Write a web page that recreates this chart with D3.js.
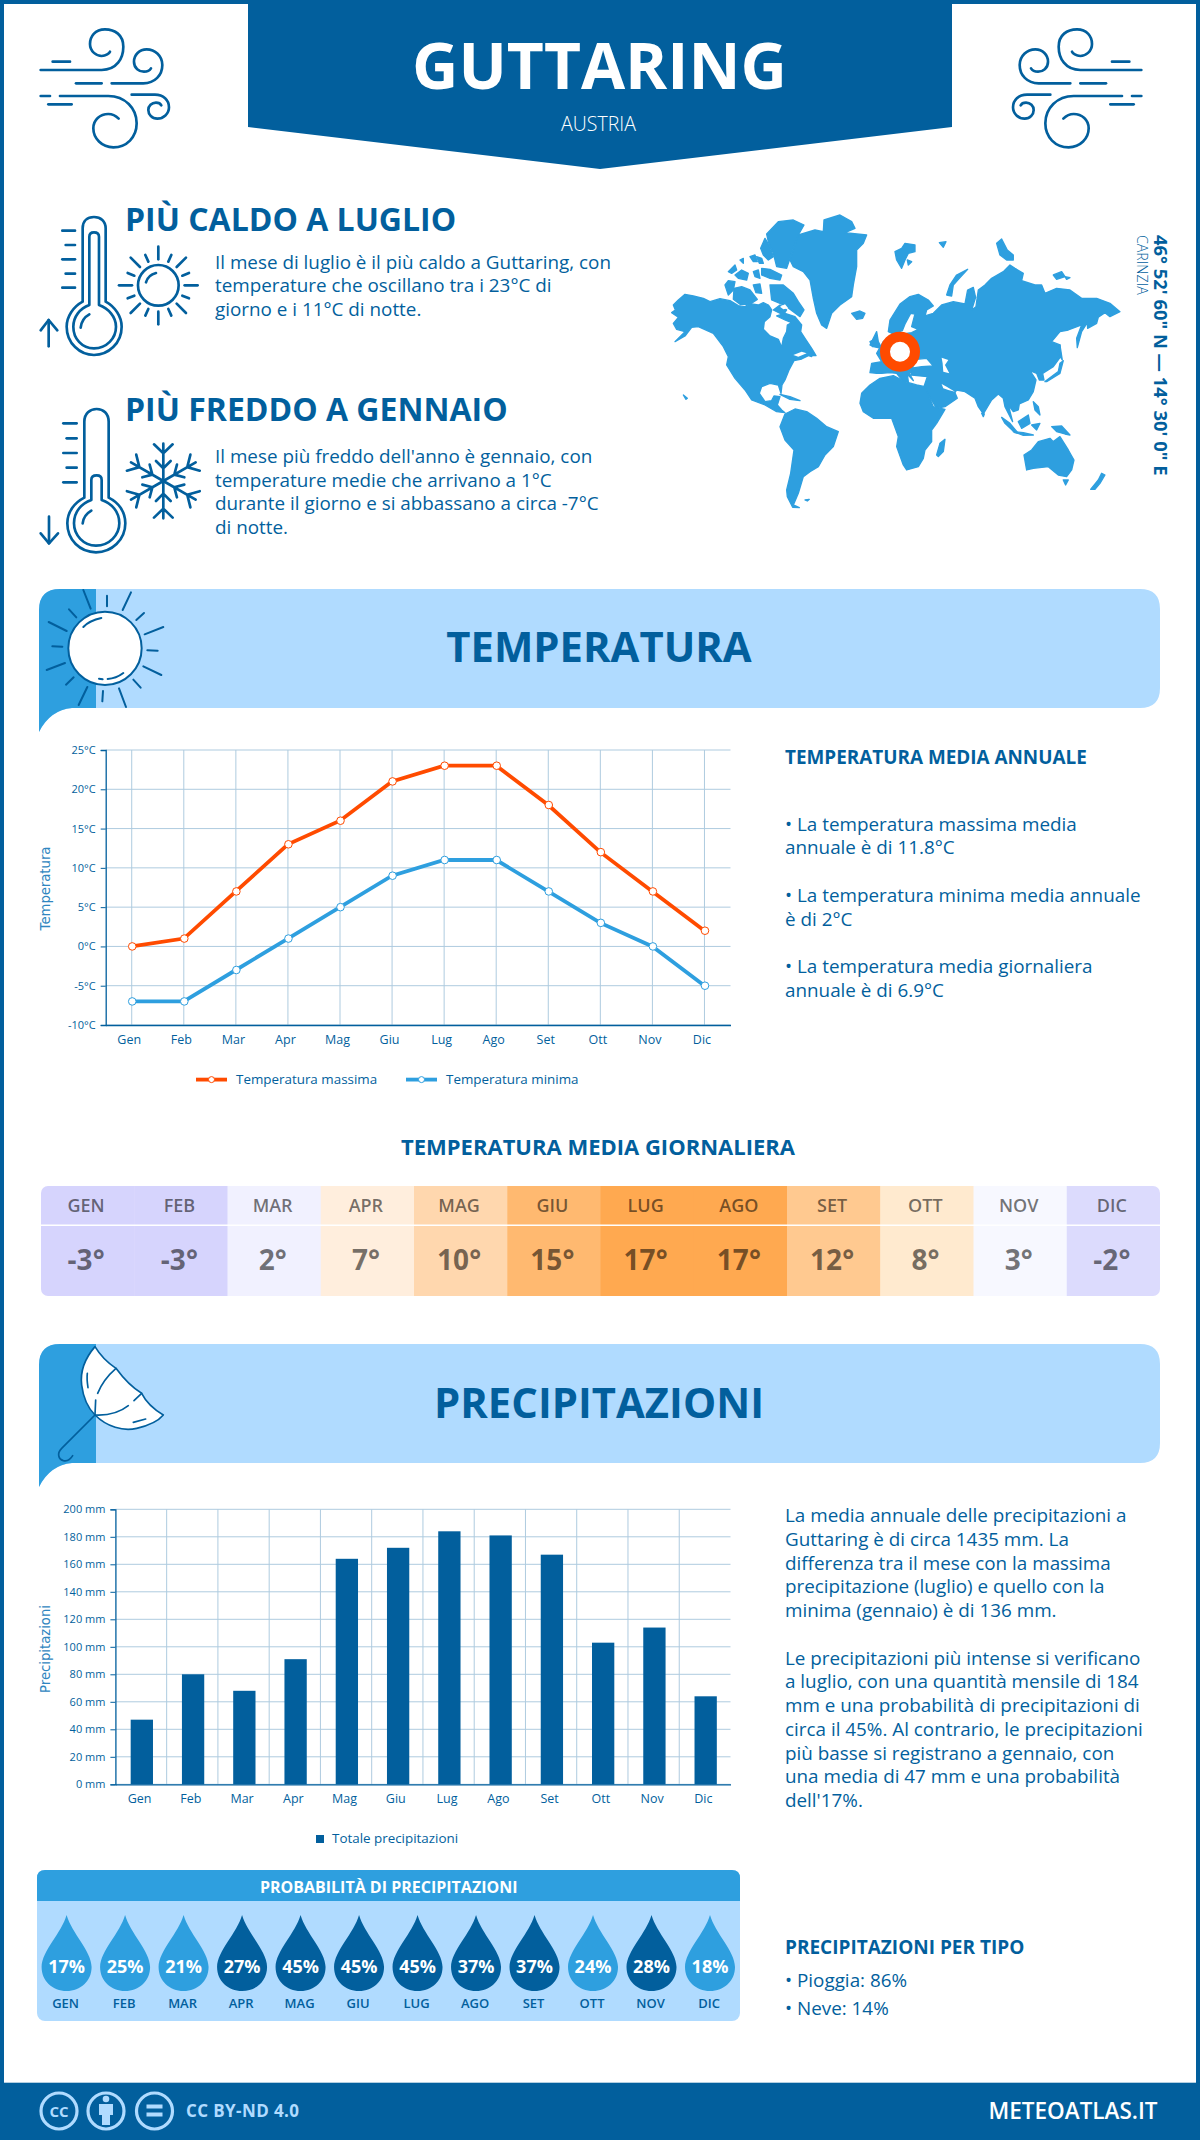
<!DOCTYPE html>
<html lang="it">
<head>
<meta charset="utf-8">
<title>Guttaring - Meteo Atlas</title>
<script src="https://cdn.jsdelivr.net/npm/d3@7"></script>
<style>
    body { margin: 0; background: #fff; font-family: "Open Sans", sans-serif; }
    svg { display: block; }
    text { font-family: "Open Sans", sans-serif; }
</style>
</head>
<body>
<svg id="chart" width="1200" height="2140" viewBox="0 0 1200 2140"></svg>
<script>
const DARK = "#025f9d", MID = "#2e9fdf", LIGHT = "#b0dbff", ORANGE = "#ff4b00", GRID = "#aecbdf";

const months = ["Gen", "Feb", "Mar", "Apr", "Mag", "Giu", "Lug", "Ago", "Set", "Ott", "Nov", "Dic"];
const monthsUpper = ["GEN", "FEB", "MAR", "APR", "MAG", "GIU", "LUG", "AGO", "SET", "OTT", "NOV", "DIC"];
const tempMax = [0, 1, 7, 13, 16, 21, 23, 23, 18, 12, 7, 2];
const tempMin = [-7, -7, -3, 1, 5, 9, 11, 11, 7, 3, 0, -5];
const tempDaily = [-3, -3, 2, 7, 10, 15, 17, 17, 12, 8, 3, -2];
const tempDailyColors = ["#d6d4fd", "#d6d4fd", "#f1f1ff", "#ffeedd", "#ffd7ae", "#ffb970", "#ffa950", "#ffa950", "#ffc990", "#ffeacf", "#f7f8ff", "#dcdbfd"];
const rain = [47, 80, 68, 91, 164, 172, 184, 181, 167, 103, 114, 64];
const rainChance = [17, 25, 21, 27, 45, 45, 45, 37, 37, 24, 28, 18];
const rainChanceDark = [false, false, false, true, true, true, true, true, true, false, true, false];

const hotLines = ["Il mese di luglio è il più caldo a Guttaring, con", "temperature che oscillano tra i 23°C di", "giorno e i 11°C di notte."];
const coldLines = ["Il mese più freddo dell'anno è gennaio, con", "temperature medie che arrivano a 1°C", "durante il giorno e si abbassano a circa -7°C", "di notte."];
const tempSummary = [["• La temperatura massima media", 831], ["annuale è di 11.8°C", 854], ["• La temperatura minima media annuale", 902], ["è di 2°C", 926], ["• La temperatura media giornaliera", 973], ["annuale è di 6.9°C", 997]];
const rainSummary = ["La media annuale delle precipitazioni a", "Guttaring è di circa 1435 mm. La", "differenza tra il mese con la massima", "precipitazione (luglio) e quello con la", "minima (gennaio) è di 136 mm.", "", "Le precipitazioni più intense si verificano", "a luglio, con una quantità mensile di 184", "mm e una probabilità di precipitazioni di", "circa il 45%. Al contrario, le precipitazioni", "più basse si registrano a gennaio, con", "una media di 47 mm e una probabilità", "dell'17%."];

// mappa: contorni ricalcati a mano, scala 3x
const mapLand = [
    [[5,308],[16,300],[10,285],[25,270],[45,253],[70,258],[100,265],[120,275],[150,266],[180,272],[205,287],[225,290],[240,281],[265,285],[280,278],[295,285],[305,300],[300,320],[283,335],[280,358],[300,378],[325,388],[335,412],[340,385],[350,365],[352,345],[365,338],[345,330],[320,318],[345,310],[375,320],[395,345],[392,365],[405,385],[425,415],[438,437],[415,437],[395,447],[372,452],[358,478],[345,510],[336,525],[333,550],[325,525],[300,520],[275,530],[268,550],[285,575],[305,572],[312,558],[330,560],[322,585],[335,600],[345,608],[320,605],[285,585],[245,570],[225,540],[195,505],[170,465],[175,440],[160,410],[130,370],[85,350],[65,352],[45,378],[15,395],[45,365],[20,358],[10,340],[25,322]],
    [[330,650],[345,612],[375,597],[410,605],[440,625],[470,650],[505,665],[490,710],[465,735],[445,770],[420,785],[400,800],[385,850],[370,885],[388,893],[368,892],[352,860],[350,840],[362,790],[372,720],[345,690]],
    [[360,150],[385,75],[435,60],[460,65],[462,30],[510,15],[545,35],[555,55],[525,68],[590,75],[580,100],[560,120],[560,170],[550,225],[545,260],[510,285],[485,310],[470,355],[455,345],[440,310],[430,265],[420,210],[400,185],[370,170]],
    [[290,72],[325,35],[370,30],[402,45],[385,75],[370,115],[350,175],[320,170],[310,130],[295,95]],
    [[272,115],[285,85],[300,110],[310,140],[295,150],[280,135]],
    [[175,185],[195,165],[200,180],[185,190]],
    [[195,195],[215,180],[235,190],[230,210],[205,205]],
    [[165,225],[175,212],[195,215],[190,240],[175,255]],
    [[192,235],[215,230],[240,240],[262,268],[240,283],[210,283],[190,268]],
    [[250,185],[265,180],[270,205],[255,200]],
    [[240,140],[255,135],[262,155],[250,155]],
    [[260,140],[275,145],[280,160],[268,160]],
    [[210,150],[220,145],[220,160]],
    [[275,175],[300,178],[335,195],[330,210],[300,205],[275,195]],
    [[250,225],[270,222],[275,250],[258,248]],
    [[300,225],[340,225],[370,250],[385,275],[402,300],[390,320],[370,305],[350,290],[330,280],[305,270]],
    [[310,300],[330,285],[350,300],[340,315]],
    [[545,310],[570,303],[585,310],[578,325],[560,328]],
    [[675,125],[695,115],[705,100],[735,105],[735,125],[715,130],[705,150],[695,175],[680,150]],
    [[712,150],[725,155],[715,165]],
    [[808,98],[828,95],[820,112]],
    [[893,178],[860,195],[840,225],[830,255],[845,258],[850,225],[868,205]],
    [[980,100],[995,87],[1012,120],[1030,135],[1030,150],[1010,150],[990,135]],
    [[1150,195],[1175,185],[1185,200],[1160,208]],
    [[1185,200],[1200,203],[1190,208]],
    [[655,365],[660,330],[690,282],[720,260],[745,253],[775,270],[790,288],[770,300],[765,318],[790,310],[815,285],[850,275],[885,282],[893,240],[910,232],[917,262],[905,300],[918,290],[925,240],[945,225],[965,205],[1000,185],[1020,165],[1035,175],[1060,190],[1055,212],[1095,225],[1115,225],[1125,250],[1160,235],[1200,240],[1235,265],[1280,265],[1320,280],[1350,305],[1320,320],[1305,308],[1285,322],[1280,340],[1253,355],[1252,338],[1235,365],[1222,413],[1220,385],[1235,345],[1195,360],[1170,365],[1145,395],[1170,405],[1172,440],[1150,470],[1118,490],[1122,510],[1108,510],[1100,490],[1080,482],[1098,510],[1090,545],[1075,570],[1048,582],[1045,600],[1030,605],[1015,585],[1028,635],[1005,590],[1000,565],[985,552],[965,570],[940,612],[925,590],[915,565],[885,545],[860,540],[855,548],[862,565],[825,590],[800,595],[775,555],[762,530],[772,500],[725,495],[720,475],[755,470],[790,468],[770,445],[740,448],[718,490],[730,512],[712,492],[715,515],[700,515],[680,490],[660,488],[635,490],[620,490],[600,488],[605,460],[635,455],[620,430],[640,395],[700,372],[725,368],[745,358],[725,350],[735,312],[722,310],[706,340],[697,362],[670,372]],
    [[570,580],[575,550],[600,525],[630,505],[670,497],[705,515],[740,525],[765,530],[790,590],[825,598],[800,640],[785,660],[785,695],[765,720],[760,745],[745,770],[710,780],[700,765],[680,710],[685,680],[665,625],[610,625],[580,605]],
    [[800,735],[810,700],[825,688],[820,725],[805,740]],
    [[1062,735],[1085,720],[1105,695],[1140,685],[1150,695],[1170,680],[1195,720],[1212,750],[1205,780],[1190,800],[1165,795],[1135,770],[1090,775],[1070,780]],
    [[1180,810],[1195,810],[1187,825]],
    [[1262,838],[1285,810],[1295,790],[1305,795],[1290,820],[1275,838]],
    [[1145,650],[1175,648],[1200,675],[1185,672],[1160,665]],
    [[1045,635],[1075,615],[1080,640],[1055,655]],
    [[995,622],[1020,640],[1045,670],[1035,668],[1005,640]],
    [[1030,665],[1060,668],[1090,675],[1060,676]],
    [[1085,645],[1110,640],[1100,660]],
    [[1090,575],[1105,590],[1110,615],[1095,600]],
    [[1125,515],[1165,485],[1170,460],[1180,452],[1170,490],[1130,515]],
    [[1170,405],[1177,450],[1165,430]],
    [[330,553],[360,560],[390,572],[360,568]],
    [[600,405],[620,365],[625,395],[635,415],[610,410]],
    [[600,395],[610,390],[608,410]],
    [[400,430],[430,425],[425,440]],
    [[405,870],[418,868],[412,873]],
    [[40,555],[52,565],[48,568]],
    [[935,610],[943,612],[940,620]]
];
const mapWater = [
    [[815,522],[830,530],[855,545],[835,540],[820,535]],
    [[815,443],[835,450],[825,465],[838,490],[820,485],[818,460]],
    [[370,435],[395,425],[410,430],[385,440]],
    [[330,290],[345,283],[355,295],[340,298]]
];

const svg = d3.select("#chart");

function addText(parent, str, x, y, size, opts = {}) {
    return parent.append("text")
        .attr("x", x).attr("y", y)
        .attr("font-size", size)
        .attr("font-weight", opts.weight || 400)
        .attr("fill", opts.fill || DARK)
        .attr("text-anchor", opts.anchor || "start")
        .text(str);
}

// icone disegnate a scala 3x rispetto alla pagina
function iconGroup(x, y, flip) {
    const t = flip ? `translate(${x},${y}) scale(-0.3333,0.3333)` : `translate(${x},${y}) scale(0.3333)`;
    return svg.append("g").attr("transform", t)
        .attr("fill", "none").attr("stroke", DARK)
        .attr("stroke-width", 8).attr("stroke-linecap", "round").attr("stroke-linejoin", "round");
}

function drawWind(g) {
    [
        "M32,150 L215,150 C260,150 280,115 280,80 C280,45 255,28 225,28 C195,28 180,50 180,72 C180,95 200,108 215,108 C228,108 238,100 240,95",
        "M68,125 L120,125",
        "M138,190 L215,190",
        "M245,190 L340,190 C375,190 397,165 397,135 C397,108 375,88 350,88 C328,88 312,105 312,125 C312,145 328,155 342,155 C352,155 360,150 363,145",
        "M32,228 L60,228",
        "M90,228 L235,228 C285,228 320,265 320,310 C320,352 290,382 250,382 C215,382 190,355 190,325 C190,300 210,282 235,282 C248,282 258,288 266,296",
        "M55,253 L125,253",
        "M305,224 L375,224 C400,224 417,240 417,262 C417,282 400,296 382,296 C365,296 355,282 355,270 C355,258 365,248 378,248 C385,248 392,252 394,256"
    ].forEach(d => g.append("path").attr("d", d));
}

// bordo e testata
svg.append("rect").attr("x", 2).attr("y", 2).attr("width", 1196).attr("height", 2136)
    .attr("fill", "#fff").attr("stroke", DARK).attr("stroke-width", 4);
svg.append("path").attr("d", "M248,0 L952,0 L952,127 L600,169 L248,127 Z").attr("fill", DARK);
addText(svg, "GUTTARING", 599.5, 89, 64, { weight: 700, fill: "#fff", anchor: "middle" });
addText(svg, "AUSTRIA", 598.5, 131, 19.5, { weight: 300, fill: "#fff", anchor: "middle" });
drawWind(iconGroup(30, 20, false));
drawWind(iconGroup(1152, 20, true));

// più caldo / più freddo
addText(svg, "PIÙ CALDO A LUGLIO", 125, 231, 32, { weight: 700 });
hotLines.forEach((l, i) => addText(svg, l, 215, 268.5 + i * 23.6, 18.85));
addText(svg, "PIÙ FREDDO A GENNAIO", 125, 421, 32, { weight: 700 });
coldLines.forEach((l, i) => addText(svg, l, 215, 463 + i * 23.6, 18.85));

const icons = iconGroup(30, 205, false);
[
    "M158,290 L158,70 C158,48 172,36 192,36 C212,36 227,48 227,70 L227,290 C255,305 275,335 275,365 C275,415 235,450 192,450 C150,450 110,415 110,365 C110,335 130,305 158,290 Z",
    "M178,300 L178,95 C178,85 185,82 192,82 C200,82 207,85 207,95 L207,300 C235,310 258,335 258,365 C258,400 230,430 192,430 C155,430 130,400 130,365 C130,335 150,310 178,300 Z",
    "M152,368 C154,350 165,335 178,328",
    "M97,77 L135,77", "M107,120 L135,120", "M97,163 L135,163", "M107,206 L135,206", "M97,248 L135,248",
    "M56,424 L56,345", "M32,376 L56,345 L82,376",
    "M385,125 L385,163", "M385,320 L385,358", "M267,241 L306,241", "M464,241 L503,241",
    "M302,158 L330,186", "M468,158 L440,186", "M302,324 L330,296", "M468,324 L440,296",
    "M346,150 L355,170", "M424,150 L415,170", "M293,204 L313,212", "M477,204 L457,212",
    "M293,280 L313,272", "M477,280 L457,272", "M346,332 L355,312", "M424,332 L415,312",
    "M348,232 C352,218 362,208 378,204",
    "M163,878 L163,650 C163,625 180,612 200,612 C220,612 236,625 236,650 L236,878 C265,892 286,920 286,955 C286,1005 245,1042 198,1042 C150,1042 112,1005 112,955 C112,920 135,892 163,878 Z",
    "M184,885 L184,825 C184,815 192,811 200,811 C208,811 215,815 215,825 L215,885 C245,895 268,920 268,955 C268,990 238,1022 198,1022 C160,1022 132,990 132,955 C132,920 155,895 184,885 Z",
    "M158,955 C160,938 170,925 184,917",
    "M100,655 L140,655", "M110,700 L140,700", "M100,744 L140,744", "M110,788 L140,788", "M100,832 L140,832",
    "M57,935 L57,1015", "M32,985 L57,1015 L84,985"
].forEach(d => icons.append("path").attr("d", d));
icons.append("circle").attr("cx", 385).attr("cy", 241).attr("r", 61);
d3.range(6).forEach(i => {
    icons.append("path")
        .attr("transform", `translate(400,828) rotate(${i * 60})`)
        .attr("d", "M0,0 L0,-112 M-28,-110 L0,-83 L28,-110 M-22,-60 L0,-38 L22,-60");
});

// mappa del mondo
const mapG = svg.append("g").attr("transform", "translate(670,210) scale(0.3333)");
const outline = d3.line().curve(d3.curveLinearClosed);
mapG.selectAll(".land").data(mapLand).join("path").attr("class", "land")
    .attr("d", outline).attr("fill", MID)
    .attr("stroke", MID).attr("stroke-width", 4).attr("stroke-linejoin", "round");
mapG.selectAll(".water").data(mapWater).join("path").attr("class", "water")
    .attr("d", outline).attr("fill", "#fff");
svg.append("circle").attr("cx", 900).attr("cy", 351.7).attr("r", 15)
    .attr("fill", "#fff").attr("stroke", ORANGE).attr("stroke-width", 10);
addText(svg, "46° 52' 60\" N — 14° 30' 0\" E", 0, 0, 18.4, { weight: 700 })
    .attr("transform", "translate(1154,235) rotate(90)");
addText(svg, "CARINZIA", 0, 0, 14.2, { weight: 300 })
    .attr("transform", "translate(1137,235) rotate(90)");

// fasce di sezione
function drawBanner(top, title, baseline) {
    const d = `M39,${top + 21} Q39,${top} 60,${top} L1140,${top} Q1160,${top} 1160,${top + 20} L1160,${top + 99} Q1160,${top + 119} 1140,${top + 119} L72,${top + 119} Q50,${top + 121} 39,${top + 143} Z`;
    svg.append("path").attr("d", d).attr("fill", LIGHT);
    const clipId = "clip" + top;
    svg.append("clipPath").attr("id", clipId).append("rect")
        .attr("x", 30).attr("y", top - 5).attr("width", 66).attr("height", 160);
    svg.append("path").attr("d", d).attr("fill", MID).attr("clip-path", `url(#${clipId})`);
    addText(svg, title, 599, baseline, 41.8, { weight: 700, anchor: "middle" });
}

drawBanner(589, "TEMPERATURA", 662);
drawBanner(1344, "PRECIPITAZIONI", 1418);

const sun = svg.append("g").attr("transform", "translate(30,580) scale(0.3333)")
    .attr("fill", "none").attr("stroke", DARK).attr("stroke-width", 6).attr("stroke-linecap", "round");
sun.append("circle").attr("cx", 225).attr("cy", 205).attr("r", 110).attr("fill", "#fff");
[
    "M160,30 L182,86", "M231,47 L231,79", "M303,37 L278,90", "M342,99 L319,120",
    "M400,141 L344,163", "M383,212 L352,211", "M394,285 L340,259", "M332,323 L310,299",
    "M288,381 L267,325", "M217,364 L219,333", "M146,375 L172,321", "M108,314 L131,292",
    "M50,270 L105,249", "M67,199 L97,200", "M56,126 L110,153", "M117,88 L139,112",
    "M160,141 C175,125 195,118 214,114", "M207,296 L218,298", "M233,297 C250,296 268,288 280,279"
].forEach(d => sun.append("path").attr("d", d));

const umbrella = svg.append("g").attr("transform", "translate(30,1335) scale(0.3333)")
    .attr("fill", "none").attr("stroke", DARK).attr("stroke-width", 5).attr("stroke-linecap", "round").attr("stroke-linejoin", "round");
umbrella.append("path").attr("fill", "#fff")
    .attr("d", "M195,35 C165,70 150,110 155,150 C160,190 175,220 195,240 C230,275 280,290 320,280 C355,272 385,258 400,240 C375,225 350,205 335,175 C310,160 280,130 258,100 C235,85 210,60 195,35 Z");
[
    "M258,100 C235,120 215,145 203,175", "M197,195 L195,240", "M195,240 C235,242 270,232 295,212",
    "M312,197 L335,175", "M310,262 L347,252", "M172,115 C170,130 172,145 174,158",
    "M195,240 L95,340 C80,355 85,372 100,377 C112,380 122,372 128,362"
].forEach(d => umbrella.append("path").attr("d", d));

// assi condivisi
function styleAxis(g) {
    g.selectAll(".domain").attr("stroke", DARK).attr("stroke-width", 1.3);
    g.selectAll(".tick line").attr("stroke", DARK);
    g.selectAll(".tick text").attr("fill", DARK).attr("font-family", '"Open Sans", sans-serif');
}

function yTitle(str, x, y) {
    svg.append("text").attr("transform", `translate(${x},${y}) rotate(-90)`)
        .attr("text-anchor", "middle").attr("font-size", 13.2)
        .style("font-family", '"DejaVu Sans", sans-serif')
        .attr("fill", "#2f86c0").text(str);
}

// grafico temperatura
const tempX = d3.scalePoint().domain(months).range([105.7, 730.5]).padding(0.5);
const tempY = d3.scaleLinear().domain([-10, 25]).range([1025, 750]);
const tempTicks = d3.range(-10, 26, 5);

svg.append("g").selectAll("line").data(tempTicks).join("line")
    .attr("x1", 105.7).attr("x2", 730.5)
    .attr("y1", d => tempY(d)).attr("y2", d => tempY(d))
    .attr("stroke", GRID);
svg.append("g").selectAll("line").data(months).join("line")
    .attr("x1", d => tempX(d)).attr("x2", d => tempX(d))
    .attr("y1", 750).attr("y2", 1025)
    .attr("stroke", GRID);

const tempXAxis = svg.append("g").attr("transform", "translate(0,1025)")
    .call(d3.axisBottom(tempX).tickSize(0).tickPadding(10.5));
tempXAxis.call(styleAxis).selectAll("text").attr("font-size", 12.5).attr("dx", -3);
const tempYAxis = svg.append("g").attr("transform", "translate(105.7,0)")
    .call(d3.axisLeft(tempY).tickValues(tempTicks).tickSize(5).tickPadding(5).tickFormat(d => d + "°C"));
tempYAxis.call(styleAxis).selectAll("text").attr("font-size", 11);
yTitle("Temperatura", 50, 888.5);

const tempLine = d3.line().x((d, i) => tempX(months[i])).y(d => tempY(d));
[[tempMax, ORANGE], [tempMin, MID]].forEach(([values, color]) => {
    svg.append("path").datum(values).attr("d", tempLine)
        .attr("fill", "none").attr("stroke", color).attr("stroke-width", 3.8);
    svg.append("g").selectAll("circle").data(values).join("circle")
        .attr("cx", (d, i) => tempX(months[i]) + 0.5)
        .attr("cy", d => tempY(d))
        .attr("r", 3.8).attr("fill", "#fff").attr("stroke", color);
});

[["Temperatura massima", ORANGE, 196], ["Temperatura minima", MID, 406]].forEach(([name, color, x]) => {
    svg.append("line").attr("x1", x).attr("x2", x + 31).attr("y1", 1079.6).attr("y2", 1079.6)
        .attr("stroke", color).attr("stroke-width", 3.8);
    svg.append("circle").attr("cx", x + 15.5).attr("cy", 1079.6).attr("r", 3)
        .attr("fill", "#fff").attr("stroke", color);
    addText(svg, name, x + 40, 1084, 13.4);
});

addText(svg, "TEMPERATURA MEDIA ANNUALE", 785, 764, 18.9, { weight: 700 });
tempSummary.forEach(([l, y]) => addText(svg, l, 785, y, 18.85));

// tabella temperatura media giornaliera
addText(svg, "TEMPERATURA MEDIA GIORNALIERA", 598, 1155, 22, { weight: 700, anchor: "middle" });
const cellX = d3.scaleBand().domain(monthsUpper).range([41, 1160]);
svg.append("clipPath").attr("id", "tableClip").append("rect")
    .attr("x", 41).attr("y", 1186).attr("width", 1119).attr("height", 110).attr("rx", 7);
const cells = svg.append("g").attr("clip-path", "url(#tableClip)");
cells.selectAll("rect").data(monthsUpper).join("rect")
    .attr("x", d => cellX(d)).attr("y", 1186)
    .attr("width", cellX.bandwidth() + 0.5).attr("height", 110)
    .attr("fill", (d, i) => tempDailyColors[i]);
cells.append("line").attr("x1", 41).attr("x2", 1160).attr("y1", 1225.3).attr("y2", 1225.3)
    .attr("stroke", "#fff").attr("stroke-width", 1.5);
monthsUpper.forEach((m, i) => {
    const cx = cellX(m) + cellX.bandwidth() / 2 - 1.5;
    addText(svg, m, cx, 1212, 18, { weight: 600, fill: "rgba(0,0,0,0.55)", anchor: "middle" });
    addText(svg, tempDaily[i] + "°", cx, 1270, 28, { weight: 700, fill: "rgba(0,0,0,0.55)", anchor: "middle" });
});

// grafico precipitazioni
const rainX = d3.scaleBand().domain(months).range([115.4, 730.5]);
const rainY = d3.scaleLinear().domain([0, 200]).range([1784.3, 1509.3]);
const rainTicks = d3.range(0, 201, 20);

svg.append("g").selectAll("line").data(rainTicks).join("line")
    .attr("x1", 115.4).attr("x2", 730.5)
    .attr("y1", d => rainY(d)).attr("y2", d => rainY(d))
    .attr("stroke", GRID);
svg.append("g").selectAll("line").data(months.slice(1)).join("line")
    .attr("x1", d => rainX(d)).attr("x2", d => rainX(d))
    .attr("y1", 1509.3).attr("y2", 1784.3)
    .attr("stroke", GRID);
svg.append("g").selectAll("rect").data(rain).join("rect")
    .attr("x", (d, i) => rainX(months[i]) + (rainX.bandwidth() - 22.3) / 2 + 0.8)
    .attr("y", d => rainY(d))
    .attr("width", 22.3)
    .attr("height", d => rainY(0) - rainY(d))
    .attr("fill", DARK);

const rainXAxis = svg.append("g").attr("transform", "translate(0,1784.3)")
    .call(d3.axisBottom(rainX).tickSize(0).tickPadding(10));
rainXAxis.call(styleAxis).selectAll("text").attr("font-size", 12.5).attr("dx", -1.5);
const rainYAxis = svg.append("g").attr("transform", "translate(115.4,0)")
    .call(d3.axisLeft(rainY).tickValues(rainTicks).tickSize(5).tickPadding(5).tickFormat(d => d + " mm"));
rainYAxis.call(styleAxis).selectAll("text").attr("font-size", 11);
yTitle("Precipitazioni", 50, 1649);

svg.append("rect").attr("x", 316).attr("y", 1835).attr("width", 8).attr("height", 8).attr("fill", DARK);
addText(svg, "Totale precipitazioni", 332, 1843, 13.4);

rainSummary.forEach((l, i) => addText(svg, l, 785, 1522 + i * 23.75, 18.85));

// pannello probabilità
svg.append("rect").attr("x", 37).attr("y", 1870).attr("width", 703).attr("height", 151).attr("rx", 8).attr("fill", LIGHT);
svg.append("path").attr("d", "M37,1901 L37,1878 Q37,1870 45,1870 L732,1870 Q740,1870 740,1878 L740,1901 Z").attr("fill", MID);
addText(svg, "PROBABILITÀ DI PRECIPITAZIONI", 388.7, 1892.7, 16, { weight: 700, fill: "#fff", anchor: "middle" });
const dropX = d3.scalePoint().domain(monthsUpper).range([66.6, 710]);
monthsUpper.forEach((m, i) => {
    const g = svg.append("g").attr("transform", `translate(${dropX(m)},1915)`);
    g.append("path").attr("d", "M0,0 C5,18 25,36 25,52 C25,66 14,76 0,76 C-14,76 -25,66 -25,52 C-25,36 -5,18 0,0 Z")
        .attr("fill", rainChanceDark[i] ? DARK : MID);
    addText(g, rainChance[i] + "%", 0, 58, 18, { weight: 700, fill: "#fff", anchor: "middle" });
    addText(g, m, -1, 93, 13, { weight: 600, anchor: "middle" });
});

addText(svg, "PRECIPITAZIONI PER TIPO", 785, 1954, 19, { weight: 700 });
addText(svg, "• Pioggia: 86%", 785, 1986.7, 18.85);
addText(svg, "• Neve: 14%", 785, 2015, 18.85);

// piè di pagina
svg.append("rect").attr("x", 0).attr("y", 2082.7).attr("width", 1200).attr("height", 57.3).attr("fill", DARK);
[59, 106, 154.5].forEach(cx => {
    svg.append("circle").attr("cx", cx).attr("cy", 2111).attr("r", 18)
        .attr("fill", "none").attr("stroke", LIGHT).attr("stroke-width", 3.2);
});
addText(svg, "CC", 59, 2116.5, 15, { weight: 700, fill: LIGHT, anchor: "middle" });
svg.append("circle").attr("cx", 106).attr("cy", 2099).attr("r", 3.3).attr("fill", LIGHT);
svg.append("path").attr("d", "M99,2104 L113,2104 L113,2115 L110,2115 L110,2125 L102,2125 L102,2115 L99,2115 Z").attr("fill", LIGHT);
svg.append("path").attr("d", "M146.5,2104.5 h16 v4 h-16 Z M146.5,2112.5 h16 v4 h-16 Z").attr("fill", LIGHT);
addText(svg, "CC BY-ND 4.0", 186, 2117, 17, { weight: 700, fill: LIGHT }).attr("letter-spacing", 0.4);
addText(svg, "METEOATLAS.IT", 1157.6, 2119, 22.5, { weight: 600, fill: "#fff", anchor: "end" });
</script>
</body>
</html>
